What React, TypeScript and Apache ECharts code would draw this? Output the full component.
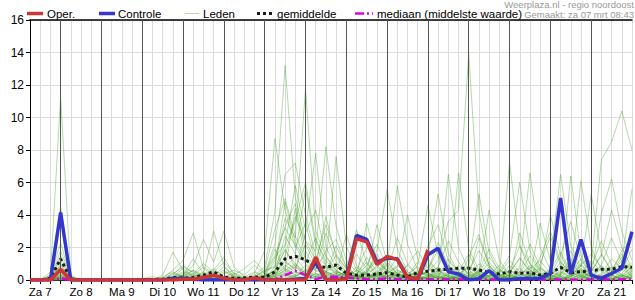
import React, { useEffect, useRef } from "react";
import * as echarts from "echarts";

// Index i = 6-hour step starting Za 7 06:00 (i = 0) up to Zo 22 00:00 (i = 59)
const dayLabels = ["Za 7", "Zo 8", "Ma 9", "Di 10", "Wo 11", "Do 12", "Vr 13", "Za 14", "Zo 15", "Ma 16", "Di 17", "Wo 18", "Do 19", "Vr 20", "Za 21"];
const yTicks = { min: 0, max: 16, step: 2 };

const oper = [
  0, 0, 0, 0.65, 0, 0, 0, 0, 0, 0,
  0, 0, 0, 0, 0, 0.05, 0.05, 0.15, 0.3, 0.1,
  0, 0, 0.12, 0, 0, 0, 0, 0, 1.4, 0,
  0, 0.05, 2.55, 2.35, 0.95, 1.45, 1.25, 0.15, 0.08, 1.85,
];

const controle = [
  0, 0, 0, 4.15, 0, 0, 0, 0, 0, 0,
  0, 0, 0, 0, 0.08, 0.1, 0.05, 0, 0, 0,
  0, 0, 0, 0, 0, 0, 0.05, 0.1, 1.1, 0,
  0, 0.1, 2.75, 2.5, 1.1, 1.35, 1.3, 0.15, 0.08, 1.55,
  1.95, 0.5, 0.37, 0, 0.08, 0.57, 0, 0, 0.1, 0.1,
  0.1, 0.4, 5.05, 0.37, 2.5, 0.3, 0.1, 0.4, 0.72, 2.97,
];

const gemiddelde = [
  0, 0, 0.1, 1.3, 0.05, 0, 0, 0, 0, 0,
  0, 0.02, 0.03, 0.05, 0.15, 0.12, 0.15, 0.3, 0.5, 0.18,
  0.1, 0.12, 0.18, 0.15, 0.5, 1.3, 1.46, 1.25, 0.82, 0.78,
  0.92, 0.41, 0.3, 0.3, 0.37, 0.45, 0.3, 0.2, 0.45, 0.54,
  0.62, 0.66, 0.72, 0.72, 0.62, 0.45, 0.37, 0.51, 0.41, 0.45,
  0.3, 0.41, 0.78, 0.45, 0.51, 0.57, 0.66, 0.66, 0.82, 0.78,
];

const mediaan = [
  0, 0, 0, 0.1, 0, 0, 0, 0, 0, 0,
  0, 0, 0, 0, 0, 0, 0, 0, 0.02, 0,
  0, 0, 0, 0, 0.05, 0.3, 0.57, 0.3, 0.05, 0.2,
  0.2, 0.15, 0.1, 0.05, 0.05, 0.1, 0.05, 0.03, 0.05, 0.05,
  0.05, 0.03, 0.05, 0.03, 0.02, 0.03, 0.02, 0.02, 0.03, 0.02,
  0.02, 0.02, 0.03, 0.02, 0.02, 0.03, 0.03, 0.03, 0.04, 0.04,
];

const leden: number[][] = [
  [0,0,0.3,11.3,0.2,0,0,0,0,0, 0,0,0,0,0.2,0.5,0.3,0.8,0.4,0.1, 0,0,0.2,0.5,1.5,3.2,2.1,1.0,0.6,1.8, 2.5,0.8,0.3,0.5,1.2,0.6,0.2,0,0.4,1.1, 0.6,0.2,0,1.4,2.8,0.9,0.1,0,0.3,0.7, 1.2,0.4,0,0.2,0.9,1.6,0.8,0.3,0.1,0.4],
  [0,0,0.5,4.5,0.3,0,0,0,0,0, 0,0,0,0.1,0.6,1.2,2.9,0.7,0.3,0.2, 0.1,0,0.3,0.8,4.2,13.2,5.1,2.4,1.2,0.5, 0.3,0.1,0.6,2.0,1.4,0.5,0.3,0.9,1.8,0.7, 0.2,0,0.4,0.8,0.3,0,0,0.6,2.1,1.0, 0.4,0,0.2,0.7,0.3,0.1,0,0.5,1.8,2.6],
  [0,0,0.2,2.3,0.1,0,0,0,0,0, 0,0,0,0.3,1.7,0.6,0.2,0.4,3.0,0.9, 0.2,0.1,0.4,1.8,8.7,4.3,2.0,3.5,1.1,0.4, 0.2,0.5,1.6,0.7,0.3,1.0,5.8,2.2,0.6,0.3, 0.8,2.4,1.1,0.3,0,0,0.2,0.9,0.4,0.1, 0,0.3,1.5,3.6,1.2,0.4,0.1,0,0.6,1.9],
  [0,0,0.1,1.8,0.2,0,0,0,0,0, 0,0,0,0,0.2,0.3,0.9,2.5,1.1,3.0, 0.8,0.2,0.1,0.4,2.2,6.5,7.2,4.0,1.5,0.9, 0.5,0.3,0.2,0.4,1.8,5.6,1.9,0.5,0.2,0.6, 1.9,0.8,0.3,0.1,0.5,1.4,0.6,0.2,0,0.3, 1.0,2.7,0.9,0.3,0.1,0,0.4,1.3,0.7,0.2],
  [0,0,0,1.5,0.1,0,0,0,0,0, 0,0,0,0,0.4,0.8,0.5,0.2,0.6,1.4, 0.3,0.7,1.2,0.5,0.9,3.8,2.6,11.8,3.0,1.4, 0.6,0.2,0.1,3.5,1.2,0.4,0.8,4.0,1.3,0.4, 0.1,0,0.2,0.6,1.8,0.7,0.2,0,0.5,2.2, 0.8,0.2,0,0.4,1.0,0.3,0,0.2,0.8,0.3],
  [0,0,0.2,1.2,0.1,0,0,0,0,0, 0,0,0,0.2,0.5,0.2,0.1,0,0.3,0.8, 0.2,0,0,0.3,1.4,2.2,5.8,3.1,7.8,2.0, 0.8,0.4,0.2,0.5,3.4,1.1,0.4,0.2,0.6,1.5, 5.3,1.6,0.5,0.2,0,0.3,0.9,0.4,0.1,0, 0.2,0.6,1.7,0.5,0.2,0.8,2.4,0.9,0.3,0.1],
  [0,0,0,1.0,0,0,0,0,0,0, 0,0,0,0,0.1,0.3,0.6,0.2,0.1,0.4, 0.6,0.3,0.9,0.4,0.2,1.5,3.9,2.4,1.8,8.2, 3.3,1.2,0.5,0.2,0.4,1.3,0.6,0.3,0.9,4.6, 1.5,0.6,0.2,0.8,0.3,0,0.1,0.5,1.3,0.6, 0.2,0,0.3,1.1,0.4,0.2,0.7,0.3,0,0.2],
  [0,0,0.3,0.8,0.2,0,0,0,0,0, 0,0,0,0,0,0.2,0.4,1.0,0.5,0.2, 0.1,0,0.2,0.6,0.8,4.8,2.3,1.1,2.6,1.0, 7.6,2.1,0.6,0.3,0.2,0.5,1.4,0.5,0.2,0.1, 0.5,6.5,2.0,0.6,0.2,0,0.4,1.2,0.5,0.1, 0,0.3,0.8,0.3,0.1,0.5,1.6,0.6,0.2,0.9],
  [0,0,0,0.6,0,0,0,0,0,0, 0,0,0,0,0.3,0.9,0.4,0.2,0.1,0, 0,0.2,0.5,0.2,0.4,1.1,0.7,2.2,0.9,0.5, 0.3,2.8,0.9,0.4,0.2,0.1,0.3,0.2,0.4,0.8, 0.3,0.1,6.6,1.9,0.6,0.2,0,0.1,0.4,1.5, 0.5,0.1,0,0.2,0.6,0.2,0,0.3,0.9,0.4],
  [0,0,0,0.5,0,0,0,0,0,0, 0,0,0,0,0.1,0.2,0.1,0,0.2,0.5, 0.2,0.1,0,0.2,0.6,1.8,1.0,0.5,0.3,0.6, 1.5,0.7,0.3,0.9,2.2,0.8,0.3,0.1,0.2,0.5, 1.2,3.6,4.3,13.9,4.2,0.8,0.3,0.1,0,0.2, 0.4,0.1,0,0.3,0.7,0.3,0.1,0,0.2,0.6],
  [0,0,0,0.4,0,0,0,0,0,0, 0,0,0,0.1,0.2,0.1,0,0.3,0.7,0.2, 0,0,0.1,0.3,0.5,2.7,1.6,5.6,2.1,0.9, 0.4,0.2,0.1,0.4,0.8,0.3,0.1,0,0.3,1.0, 0.4,0.1,0.3,0.8,5.3,1.7,0.4,0.1,0,0.3, 0.8,0.3,0.1,0,0.4,1.2,0.5,0.1,0,0.3],
  [0,0,0,0.3,0,0,0,0,0,0, 0,0,0,0,0,0.1,0.2,0.5,0.2,0.1, 0,0,0,0.2,0.4,0.9,0.5,0.3,1.2,3.4, 1.6,0.7,3.1,1.0,0.3,0.2,0.5,0.2,0.1,0.3, 0.1,0.4,0.2,0.1,0.4,4.3,1.2,0.3,0.1,0, 0.2,0.7,0.3,6.4,1.5,0.4,0.1,0,0.4,1.1],
  [0,0,0,0.2,0,0,0,0,0,0, 0,0,0,0,0.1,0.3,0.1,0,0,0.2, 0.4,0.2,0.1,0.3,1.9,0.6,4.4,1.3,0.5,0.8, 0.4,0.2,0.6,0.3,0.1,0.4,0.9,0.3,0.1,0.2, 0.6,0.2,0.1,0,0.2,0.8,0.3,7.2,2.1,0.6, 0.2,0.1,0,0.3,0.9,0.3,0.1,0.4,1.2,0.5],
  [0,0,0,0.2,0.1,0,0,0,0,0, 0,0,0,0,0,0,0.1,0.3,0.1,0, 0,0,0,0.1,0.3,0.8,1.4,0.6,0.9,0.4, 0.2,0.6,0.3,0.1,0.4,1.1,0.4,0.2,0.5,0.3, 0.1,0,0.3,0.9,0.4,0.2,0.5,1.5,6.0,1.8, 0.6,0.2,0.4,1.0,0.3,0.1,0.3,0.8,0.3,0.1],
  [0,0,0,0.1,0,0,0,0,0,0, 0,0,0,0,0.1,0,0,0.1,0.3,0.6, 0.2,0.1,0,0,0.3,0.5,0.9,0.4,0.2,0.5, 0.9,0.4,0.2,0.6,1.3,0.5,0.2,0.1,0.3,0.4, 0.2,0.1,0,0.2,0.5,0.2,0.1,0.3,0.8,6.6, 2.0,0.6,0.2,0.1,0.3,0.7,0.2,0,0.1,0.4],
  [0,0,0,0.1,0,0,0,0,0,0, 0,0,0,0,0,0.1,0.2,0.1,0,0, 0,0,0.1,0.2,0.6,1.9,0.8,0.4,0.2,0.3, 0.5,0.3,0.1,0.2,0.5,0.2,0.1,0.3,0.8,0.3, 0.1,0.3,0.9,0.4,0.1,0,0.2,0.6,0.3,0.2, 0.6,4.0,1.5,0.4,6.1,2.0,0.6,0.2,0.1,0.3],
  [0,0,0,0,0,0,0,0,0,0, 0,0,0,0,0.2,0.4,0.2,0.1,0,0.1, 0.3,0.1,0,0.1,0.2,0.6,0.3,0.9,0.4,0.2, 0.1,0.4,0.2,0.1,0.2,0.6,0.3,0.1,0,0.2, 0.4,0.2,0.1,0.5,0.2,0.1,0,0.2,0.5,0.2, 3.5,1.2,6.5,2.1,0.8,5.3,1.6,0.5,0.2,0.1],
  [0,0,0,0,0,0,0,0,0,0, 0,0,0,0,0,0,0.1,0.2,0.1,0, 0,0,0,0,0.1,0.3,0.2,0.6,0.3,0.1, 0.2,0.1,0.3,0.1,0,0.2,0.4,0.1,0,0, 0.2,0.1,0,0.1,0.3,0.1,0,0.1,0.3,0.9, 0.4,0.2,1.1,0.5,2.3,0.9,7.4,8.5,10.4,8.0],
  [0,0,0,0,0,0,0,0,0,0, 0,0,0,0,0,0,0,0.1,0.2,0.1, 0,0,0,0,0.1,0.2,0.5,0.2,0.1,0.3, 0.1,0,0,0.1,0.3,0.1,0,0,0.1,0.2, 0.6,0.3,0.1,0,0.2,0.6,0.2,0.1,0,0.1, 0.3,0.1,0.4,1.3,0.5,0.2,4.1,6.2,3.0,1.2],
  [0,0,0,0,0,0,0,0,0,0, 0,0,0,0,0,0,0,0,0.1,0, 0,0,0,0,0,0.1,0.3,0.1,0.2,0.1, 0.1,0.2,0.1,0,0.1,0.3,0.1,0,0.2,0.1, 0,0.1,0.2,0.1,0,0.3,0.1,0,0.2,0.4, 0.1,0,0.2,0.5,0.2,0.1,0.9,2.6,1.1,5.6],
  [0,0,0.2,0.9,0.1,0,0,0,0,0, 0,0,0,0.1,0.4,0.2,0.6,0.3,0.1,0, 0,0.1,0.2,0.6,3.1,5.0,2.7,1.3,0.7,2.9, 1.1,0.5,0.2,0.1,0.3,0.9,0.4,0.1,0.2,0.6, 2.3,0.9,0.3,0.1,0.6,1.9,0.7,0.2,0,0.3, 0.1,0,0.3,0.8,0.2,0,0.2,0.6,1.6,0.6],
  [0,0,0.1,0.6,0.1,0,0,0,0,0, 0,0.1,0.2,0.1,0,0.3,1.3,0.4,0.2,0.1, 0,0,0,0.2,1.2,3.3,4.7,1.8,0.6,0.4, 2.1,0.8,0.3,1.4,0.5,0.2,0.1,0.3,1.1,0.4, 0.2,0.1,0.5,1.6,0.4,0.1,0,0.4,1.4,0.5, 0.2,0,0.1,0.4,1.3,0.4,0.1,0,0.3,0.8],
  [0,0,0,0.4,0.1,0,0,0,0,0, 0,0,0,0,0.2,0.7,0.3,0.1,0.5,1.1, 0.4,0.1,0,0.1,0.8,2.1,3.6,6.0,2.4,1.2, 0.5,0.3,0.1,0.2,0.9,0.4,0.2,0.1,0.2,1.3, 0.5,0.2,0.1,0.3,1.0,0.4,0.1,0.2,0.7,0.3, 0.1,0.2,0.5,0.2,0,0.3,0.9,0.3,0.1,0],
  [0,0,0,0.3,0,0,0,0,0,0, 0,0,0,0,0,0.1,0.3,0.2,0.1,0, 0,0,0.1,0.3,0.5,1.2,0.6,2.9,4.3,1.5, 0.6,0.2,0.1,0.4,1.6,0.6,0.2,0.1,0,0.2, 0.8,0.3,0.1,0.2,0.6,0.2,0,0.1,0.3,0.8, 0.3,0.1,0,0.2,0.5,0.2,0.1,0.5,1.4,0.5],
  [0,0,0,0.2,0,0,0,0,0,0, 0,0,0,0,0.1,0.2,0.1,0,0,0.1, 0.2,0.1,0,0.1,0.4,0.7,0.3,0.5,0.9,3.9, 1.4,0.5,0.2,0.1,0.3,0.2,0.6,0.3,0.1,0.1, 0.3,0.9,0.4,0.1,0,0.2,0.6,0.2,0.1,0.3, 0.7,0.3,0.1,0,0.1,0.4,0.2,0.1,0,0.2],
  [0,0,0,0.1,0,0,0,0,0,0, 0,0,0,0,0,0,0,0,0,0.1, 0.1,0,0,0,0.2,0.4,0.8,0.3,0.1,0.2, 0.4,0.1,0,0.2,0.4,0.1,0,0.2,0.5,0.2, 0.1,0,0.2,0.4,0.1,0,0.1,0.3,0.1,0, 0.2,0.5,0.2,0.1,0,0.1,0.3,0.1,0.2,0.5],
  [0,0,0,0.1,0,0,0,0,0,0, 0,0,0,0,0,0,0,0,0,0, 0,0,0,0,0.1,0.3,0.1,0.2,0.4,0.1, 0,0.1,0.3,0.1,0,0,0.1,0.3,0.1,0, 0.2,0.1,0,0,0.1,0.3,0.1,0,0,0.1, 0,0.2,0.1,0,0.2,0.1,0,0.1,0.3,0.1],
  [0,0,0,0,0,0,0,0,0,0, 0,0,0,0,0,0,0,0,0,0, 0,0,0,0,0,0.1,0.2,0,0.1,0, 0,0,0.1,0,0,0.1,0,0,0,0.1, 0,0,0.1,0,0,0,0.2,0.1,0,0, 0.1,0,0,0.1,0,0,0.1,0,0,0.2],
  [0,0,0,0.2,0,0,0,0,0,0, 0,0,0,0,0,0.1,0,0,0,0, 0,0,0,0.1,0.2,0.4,0.2,0.6,1.3,0.5, 0.2,0.1,0.4,1.1,0.4,0.1,0.3,0.9,0.3,2.1, 3.4,1.2,0.4,0.1,0.3,1.1,0.4,0.1,2.9,1.0, 0.3,0.1,0.6,1.8,0.6,0.2,0,0.3,0.9,3.0],
  [0,0,0,0.3,0,0,0,0,0,0, 0,0,0,0,0,0,0,0.1,0.2,0.1, 0,0,0,0,0.3,0.6,1.0,0.4,0.2,0.1, 0.3,0.1,0.8,0.3,0.1,0.6,2.6,1.0,0.3,0.1, 0.2,1.3,0.5,0.2,2.6,0.9,0.3,0.1,0,0.2, 1.4,3.0,1.1,0.4,0.2,0.5,1.5,4.3,2.0,0.7],
];

const FONT = "Liberation Sans, Arial, Helvetica, sans-serif";
const C_OPER = "#d03434";
const C_CTRL = "#3535d0";
const C_LID = "rgba(70,160,40,0.4)";
const C_MEAN = "#1a1a1a";
const C_MED = "#e000e0";

const lastIndex = controle.length - 1;
const labelAt = (i: number) => ((i - 1) % 4 === 0 ? dayLabels[(i - 1) / 4] ?? "" : "");
const dayStarts = dayLabels.map((_, k) => 3 + 4 * k).filter((i) => i < lastIndex);
const toXY = (arr: number[]) => arr.map((v, i) => [i, v]);

export default function App() {
  const ref = useRef<HTMLDivElement>(null);
  useEffect(() => {
    const chart = echarts.init(ref.current!, null, { renderer: "svg" });
    const series: any[] = [
      {
        type: "line",
        data: [[0, 0]],
        showSymbol: false,
        lineStyle: { opacity: 0 },
        z: 1,
        silent: true,
        markLine: {
          silent: true,
          symbol: ["none", "none"],
          label: { show: false },
          lineStyle: { color: "#555", width: 1, type: "solid" },
          data: dayStarts.map((i) => ({ xAxis: i })),
        },
      },
      ...leden.map((m) => ({
        type: "line",
        data: toXY(m),
        showSymbol: false,
        lineStyle: { color: C_LID, width: 1 },
        z: 2,
        silent: true,
      })),
      {
        type: "line",
        name: "mediaan",
        data: toXY(mediaan),
        showSymbol: false,
        lineStyle: { color: C_MED, width: 2.5, type: [8, 3, 2, 3] },
        z: 3,
      },
      {
        type: "line",
        name: "gemiddelde",
        data: toXY(gemiddelde),
        showSymbol: false,
        lineStyle: { color: C_MEAN, width: 3, type: [3, 3], cap: "butt" },
        z: 4,
      },
      {
        type: "line",
        name: "Controle",
        data: toXY(controle),
        showSymbol: false,
        lineStyle: { color: C_CTRL, width: 3.5 },
        z: 5,
      },
      {
        type: "line",
        name: "Oper.",
        data: toXY(oper),
        showSymbol: false,
        lineStyle: { color: C_OPER, width: 3.5 },
        z: 6,
      },
    ];

    const legendY = 13.5;
    const legendItems = [
      { x1: 27, x2: 43, tx: 47, text: "Oper.", style: { stroke: C_OPER, lineWidth: 3.5 } },
      { x1: 99, x2: 115, tx: 118, text: "Controle", style: { stroke: C_CTRL, lineWidth: 3.5 } },
      { x1: 185, x2: 199, tx: 203, text: "Leden", style: { stroke: "#b4dca8", lineWidth: 1 } },
      { x1: 257, x2: 272, tx: 277, text: "gemiddelde", style: { stroke: C_MEAN, lineWidth: 3, lineDash: [3, 3] } },
      { x1: 355, x2: 373, tx: 377, text: "mediaan (middelste waarde)", style: { stroke: C_MED, lineWidth: 2.5, lineDash: [9, 3, 2, 3] } },
    ];
    const graphic: any[] = [];
    legendItems.forEach((it) => {
      graphic.push({
        type: "line",
        shape: { x1: it.x1, y1: legendY, x2: it.x2, y2: legendY },
        style: it.style,
        silent: true,
      });
      graphic.push({
        type: "text",
        x: it.tx,
        y: legendY,
        style: { text: it.text, font: `11.5px ${FONT}`, fill: "#000", verticalAlign: "middle" },
        silent: true,
      });
    });
    graphic.push({
      type: "text",
      x: 634,
      y: 4,
      style: { text: "Weerplaza.nl - regio noordoost", font: `9.5px ${FONT}`, fill: "#999", align: "right", verticalAlign: "middle" },
      silent: true,
    });
    graphic.push({
      type: "text",
      x: 634,
      y: 14,
      style: { text: "Gemaakt: za 07 mrt 08:43", font: `9.5px ${FONT}`, fill: "#999", align: "right", verticalAlign: "middle" },
      silent: true,
    });

    chart.setOption({
      animation: false,
      backgroundColor: "#fff",
      textStyle: { fontFamily: FONT },
      grid: { left: 30, right: 1, top: 20, bottom: 20, containLabel: false },
      xAxis: [
        {
          type: "value",
          min: 0,
          max: lastIndex,
          interval: 1,
          axisLine: { show: true, lineStyle: { color: "#000", width: 1 } },
          axisTick: { show: true, length: 4, lineStyle: { color: "#000" } },
          axisLabel: {
            show: true,
            margin: 6,
            fontSize: 11.5,
            color: "#000",
            fontFamily: FONT,
            showMinLabel: true,
            showMaxLabel: true,
            formatter: (v: number) => labelAt(Math.round(v)),
          },
          splitLine: { show: true, lineStyle: { color: "#dcdcdc", width: 1 } },
        },
        {
          type: "value",
          position: "top",
          min: 0,
          max: lastIndex,
          interval: 1,
          axisLine: { show: true, onZero: false, lineStyle: { color: "#000", width: 1.5 } },
          axisTick: { show: false },
          axisLabel: { show: false },
          splitLine: { show: false },
        },
      ],
      yAxis: {
        type: "value",
        min: yTicks.min,
        max: yTicks.max,
        interval: yTicks.step,
        axisLine: { show: true, lineStyle: { color: "#000", width: 1 } },
        axisTick: { show: true, length: 4, lineStyle: { color: "#000" } },
        axisLabel: { margin: 6, fontSize: 12, color: "#000", fontFamily: FONT },
        splitLine: { show: true, lineStyle: { color: "#dcdcdc", width: 1 } },
      },
      series,
      graphic,
    });
    return () => chart.dispose();
  }, []);
  return <div ref={ref} style={{ position: "absolute", left: 0, top: 0, width: 635, height: 300 }} />;
}
